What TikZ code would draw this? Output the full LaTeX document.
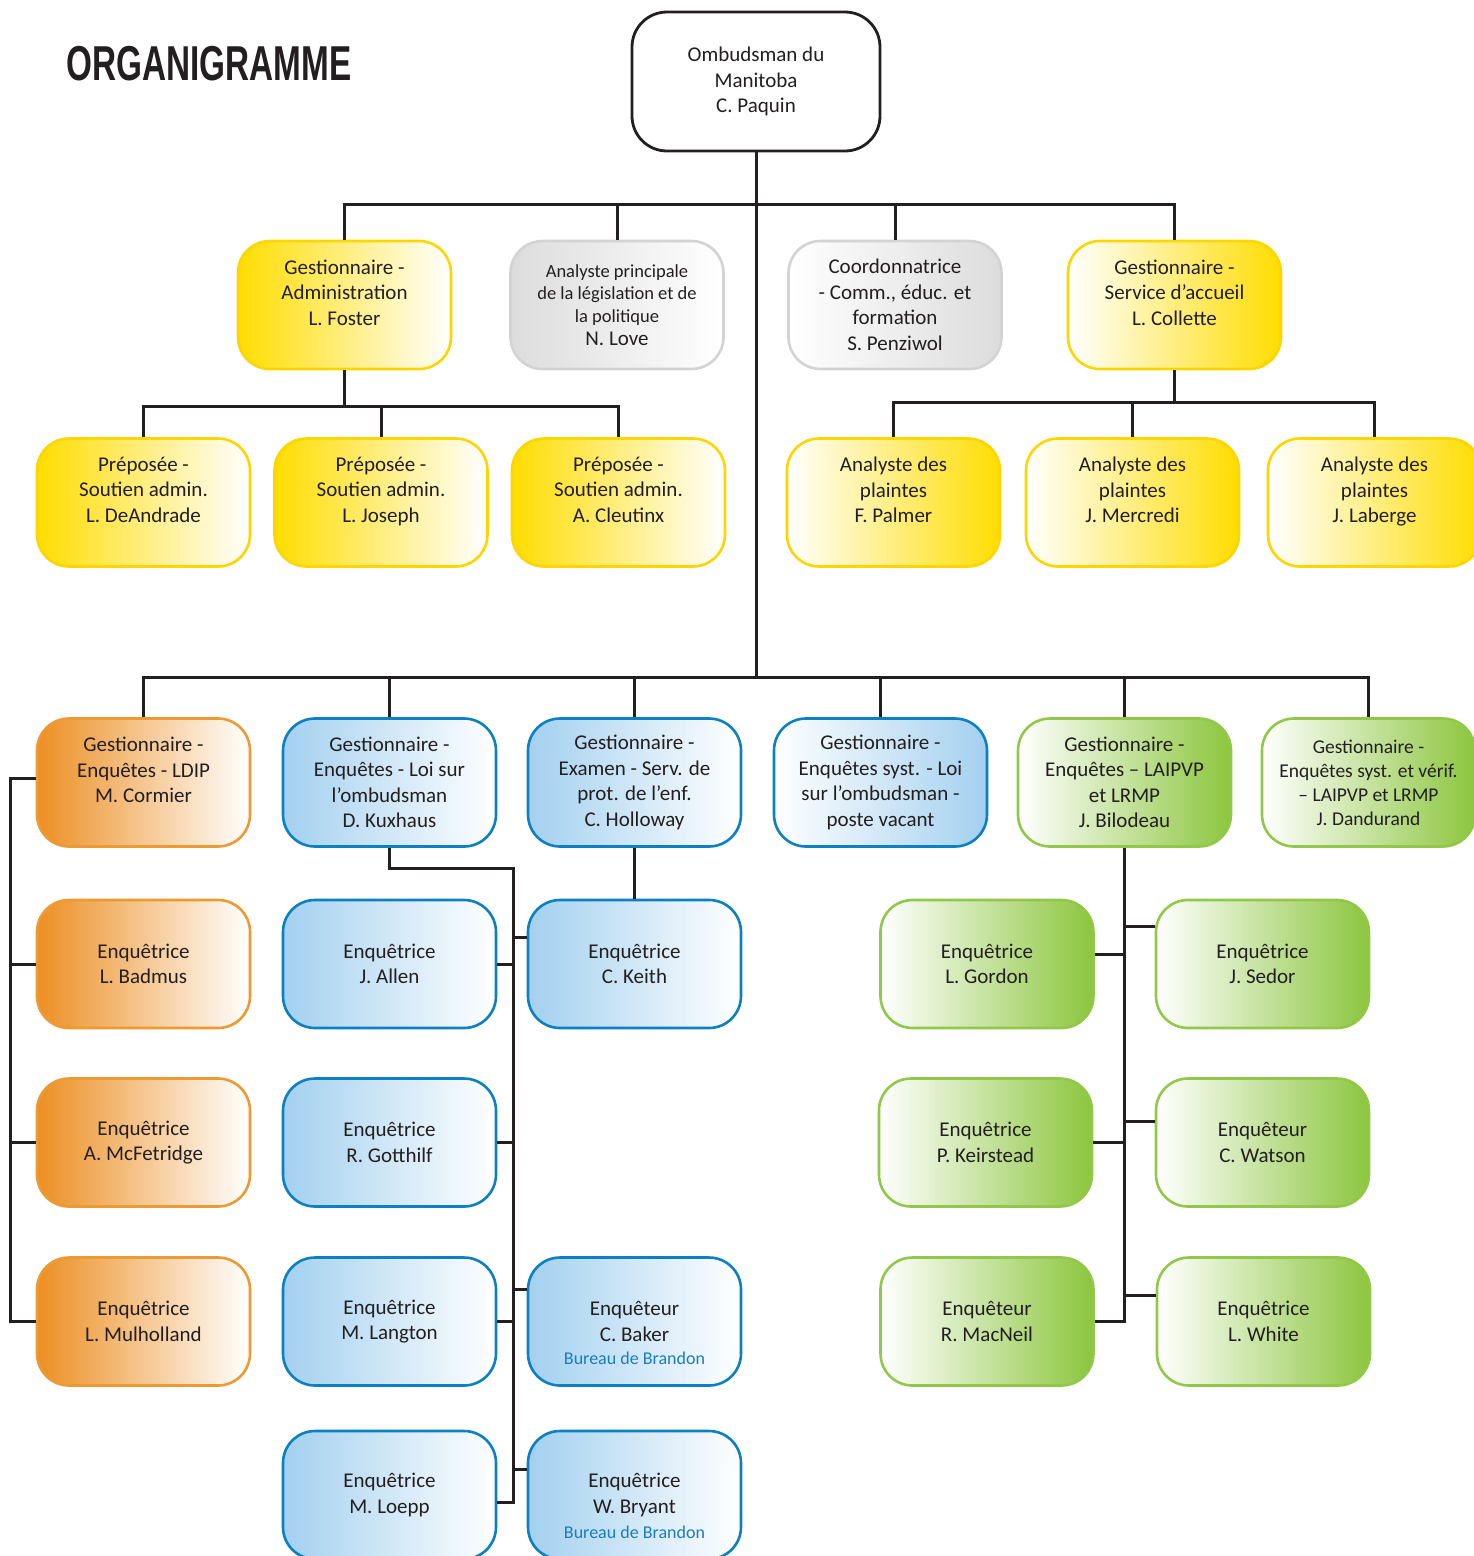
\documentclass[tikz,border=0pt]{standalone}
\usepackage{fontspec}
\setmainfont{Carlito}
\newfontfamily\titlefont{Liberation Sans}[FakeStretch=0.68]
\definecolor{txt}{HTML}{231F20}
\definecolor{lin}{HTML}{231F20}
\definecolor{ylw}{HTML}{FFDD00}
\definecolor{ylwB}{HTML}{FFD500}
\definecolor{org}{HTML}{EC8F23}
\definecolor{orgB}{HTML}{EE9A33}
\definecolor{blu}{HTML}{A3D0EF}
\definecolor{bluB}{HTML}{0B80C3}
\definecolor{grn}{HTML}{8CC63E}
\definecolor{grnB}{HTML}{92C84A}
\definecolor{gry}{HTML}{DCDCDC}
\definecolor{gryB}{HTML}{D2D3D5}
\definecolor{bur}{HTML}{1A7CC1}
\tikzset{
  box/.style={rectangle, rounded corners=32pt, minimum width=213pt, minimum height=128pt,
    line width=2.6pt, align=center, text=txt, inner sep=0pt,
    font=\fontsize{21}{25.5}\selectfont},
  smalltxt/.style={font=\fontsize{19.5}{24}\selectfont},
  rootbox/.style={box, draw=lin, fill=white, line width=2.8pt, minimum width=248pt,
    minimum height=139pt, rounded corners=35pt},
  yl/.style={box, draw=ylwB, left color=ylw, right color=white},
  yr/.style={box, draw=ylwB, left color=white, right color=ylw},
  gl/.style={box, draw=gryB, left color=gry, right color=white},
  gr/.style={box, draw=gryB, left color=white, right color=gry},
  ol/.style={box, draw=orgB, left color=org, right color=white},
  bl/.style={box, draw=bluB, left color=blu, right color=white},
  br/.style={box, draw=bluB, left color=white, right color=blu},
  gn/.style={box, draw=grnB, left color=white, right color=grn},
  bureau/.style={text=bur, inner sep=0pt, font=\fontsize{18}{20}\selectfont},
  conn/.style={draw=lin, line width=3pt},
}
\begin{document}
\begin{tikzpicture}[x=1pt, y=-1pt]
\useasboundingbox (0,0) rectangle (1474,1556);

\node[anchor=base west, inner sep=0pt, text=txt,
  font=\titlefont\bfseries\fontsize{49}{49}\selectfont] (title) at (66,80) {ORGANIGRAMME};

% row 0
\node[rootbox] (root) at (756,81.5) {Ombudsman du\\Manitoba\\C. Paquin};

% row 1
\node[yl] (admin) at (344.5,305) {Gestionnaire -\\Administration\\L. Foster\\ \mbox{}};
\node[gl, font=\fontsize{18.5}{22.8}\selectfont] (legis) at (617,305)
  {Analyste principale\\de la législation et de\\la politique\\{\fontsize{21}{24}\selectfont N. Love}};
\node[gr] (coord) at (895,305) {Coordonnatrice\\- Comm., éduc. et\\formation\\S. Penziwol};
\node[yr] (accueil) at (1174.5,305) {Gestionnaire -\\Service d’accueil\\L. Collette\\ \mbox{}};

% row 2
\node[yl] (prep1) at (143.5,502.5) {Préposée -\\Soutien admin.\\L. DeAndrade\\ \mbox{}};
\node[yl] (prep2) at (381,502.5) {Préposée -\\Soutien admin.\\L. Joseph\\ \mbox{}};
\node[yl] (prep3) at (618.5,502.5) {Préposée -\\Soutien admin.\\A. Cleutinx\\ \mbox{}};
\node[yr] (pl1) at (893.5,502.5) {Analyste des\\plaintes\\F. Palmer\\ \mbox{}};
\node[yr] (pl2) at (1132.5,502.5) {Analyste des\\plaintes\\J. Mercredi\\ \mbox{}};
\node[yr] (pl3) at (1374.5,502.5) {Analyste des\\plaintes\\J. Laberge\\ \mbox{}};

% row 3
\node[ol] (cormier) at (143.5,782.5) {Gestionnaire -\\Enquêtes - LDIP\\M. Cormier\\ \mbox{}};
\node[bl] (kux) at (389.5,782.5) {Gestionnaire -\\Enquêtes - Loi sur\\l’ombudsman\\D. Kuxhaus};
\node[bl] (holl) at (634.5,782.5) {Gestionnaire -\\Examen - Serv. de\\prot. de l’enf.\\C. Holloway};
\node[br] (vac) at (880.5,782.5) {Gestionnaire -\\Enquêtes syst. - Loi\\sur l’ombudsman -\\poste vacant};
\node[gn] (bil) at (1124.5,782.5) {Gestionnaire -\\Enquêtes – LAIPVP\\et LRMP\\J. Bilodeau};
\node[gn, smalltxt] (dand) at (1368.5,782.5) {Gestionnaire -\\Enquêtes syst. et vérif.\\– LAIPVP et LRMP\\J. Dandurand};

% row 4
\node[ol] (badmus) at (143.5,964) {Enquêtrice\\L. Badmus};
\node[bl] (allen) at (389.5,964) {Enquêtrice\\J. Allen};
\node[bl] (keith) at (634.5,964) {Enquêtrice\\C. Keith};
\node[gn] (gordon) at (987,964) {Enquêtrice\\L. Gordon};
\node[gn] (sedor) at (1262.5,964) {Enquêtrice\\J. Sedor};

% row 5
\node[ol] (mcf) at (143.5,1142.5) {Enquêtrice\\A. McFetridge};
\node[bl] (gott) at (389.5,1142.5) {Enquêtrice\\R. Gotthilf};
\node[gn] (keir) at (985.5,1142.5) {Enquêtrice\\P. Keirstead};
\node[gn] (watson) at (1262.5,1142.5) {Enquêteur\\C. Watson};

% row 6
\node[ol] (mul) at (143.5,1321.5) {Enquêtrice\\L. Mulholland};
\node[bl] (lang) at (389.5,1321.5) {Enquêtrice\\M. Langton};
\node[bl] (baker) at (634.5,1321.5) {Enquêteur\\C. Baker};
\node[bureau] (bakerb) at ([yshift=-37pt]baker.center) {Bureau de Brandon};
\node[gn] (macneil) at (987,1321.5) {Enquêteur\\R. MacNeil};
\node[gn] (white) at (1263.5,1321.5) {Enquêtrice\\L. White};

% row 7
\node[bl] (loepp) at (389.5,1495) {Enquêtrice\\M. Loepp};
\node[bl] (bryant) at (634.5,1495) {Enquêtrice\\W. Bryant};
\node[bureau] (bryantb) at ([yshift=-37pt]bryant.center) {Bureau de Brandon};

% connectors
\coordinate (ub) at (756,204);
\coordinate (mb) at (756,677);
\draw[conn] (root.south) -- (mb);
\draw[conn] (admin.north) |- (ub) -| (accueil.north);
\draw[conn] (legis.north) -- (legis.north |- ub);
\draw[conn] (coord.north) -- (coord.north |- ub);

\draw[conn] (admin.south) -- ++(0,36) coordinate (ab);
\draw[conn] (prep1.north) |- (ab) -| (prep3.north);
\draw[conn] (prep2.north) -- (prep2.north |- ab);

\draw[conn] (accueil.south) -- ++(0,32) coordinate (cb);
\draw[conn] (pl1.north) |- (cb) -| (pl3.north);
\draw[conn] (pl2.north) -- (pl2.north |- cb);

\draw[conn] (cormier.north) |- (mb) -| (dand.north);
\draw[conn] (kux.north) -- (kux.north |- mb);
\draw[conn] (holl.north) -- (holl.north |- mb);
\draw[conn] (vac.north) -- (vac.north |- mb);
\draw[conn] (bil.north) -- (bil.north |- mb);

% orange column
\coordinate (oc) at (10,0);
\draw[conn] ([yshift=4pt]cormier.west) -- ([yshift=4pt]cormier.west -| oc) -- (mul.west -| oc) -- (mul.west);
\draw[conn] (badmus.west) -- (badmus.west -| oc);
\draw[conn] (mcf.west) -- (mcf.west -| oc);

% blue column
\coordinate (bc) at (513,868);
\draw[conn] (kux.south) |- (bc) -- ([yshift=-7pt]loepp.east -| bc) -- ([yshift=-7pt]loepp.east);
\draw[conn] (allen.east) -- (allen.east -| bc);
\draw[conn] (gott.east) -- (gott.east -| bc);
\draw[conn] (lang.east) -- (lang.east -| bc);
\draw[conn] ([yshift=27pt]keith.west) -- ([yshift=27pt]keith.west -| bc);
\draw[conn] ([yshift=32pt]baker.west) -- ([yshift=32pt]baker.west -| bc);
\draw[conn] ([yshift=26pt]bryant.west) -- ([yshift=26pt]bryant.west -| bc);
\draw[conn] (holl.south) -- (keith.north);

% green column
\draw[conn] (bil.south) -- (bil.south |- macneil.east) -- (macneil.east);
\draw[conn] ([yshift=10pt]gordon.east) -- ([yshift=10pt]gordon.east -| bil.south);
\draw[conn] (keir.east) -- (keir.east -| bil.south);
\draw[conn] ([yshift=38pt]sedor.west) -- ([yshift=38pt]sedor.west -| bil.south);
\draw[conn] ([yshift=21pt]watson.west) -- ([yshift=21pt]watson.west -| bil.south);
\draw[conn] ([yshift=26pt]white.west) -- ([yshift=26pt]white.west -| bil.south);
\end{tikzpicture}
\end{document}
